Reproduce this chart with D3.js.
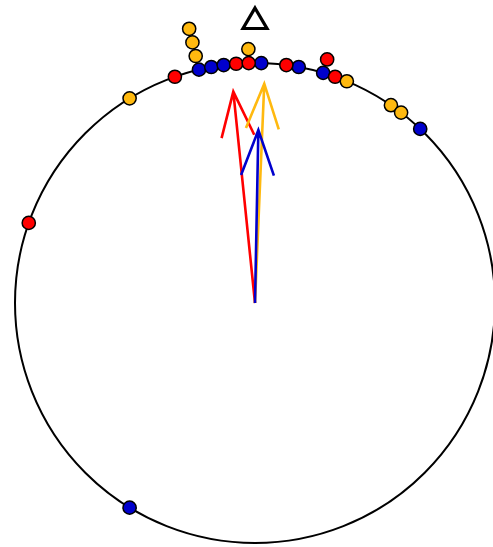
<!DOCTYPE html>
<html>
<head>
<meta charset="utf-8">
<script src="https://cdn.jsdelivr.net/npm/d3@7"></script>
<style>
  html, body { margin: 0; padding: 0; background: #fff; }
  svg { display: block; }
</style>
</head>
<body>
<svg id="chart" width="493" height="547"></svg>
<script>
// Angles in degrees, clockwise from north (zero marked by the triangle)
const seriesNames = ["blue", "red", "orange"];
const blueAngles = [-148.5, -13.5, -10.5, -7.5, 1.5, 10.5, 16.5, 43.5];
const redAngles = [-70.5, -19.5, -4.5, -1.5, 7.5, 16.5, 19.5];
const orangeAngles = [-31.5, -13.5, -13.5, -13.5, -1.5, 22.5, 34.5, 37.5];
const seriesColors = ["#0000CD", "#FF0000", "#FFB90F"];
const binWidth = 3;

const svg = d3.select("#chart");
const cx = 255, cy = 303, R = 240;
const g = svg.append("g").attr("transform", `translate(${cx},${cy})`);

const rScale = d3.scaleLinear().domain([0, 1]).range([0, R]);
const aScale = d3.scaleLinear().domain([0, 360]).range([0, 2 * Math.PI]);
const pt = (deg, r) => {
  const a = aScale(deg);
  return [r * Math.sin(a), -r * Math.cos(a)];
};

// circle
g.append("circle").attr("r", rScale(1)).attr("fill", "none")
  .attr("stroke", "#000").attr("stroke-width", 2);

// zero marker triangle
const triPath = d3.path();
triPath.moveTo(0, 8 - cy); triPath.lineTo(12, 28.5 - cy); triPath.lineTo(-12, 28.5 - cy); triPath.closePath();
g.append("path").attr("d", triPath.toString()).attr("fill", "none")
  .attr("stroke", "#000").attr("stroke-width", 3.2).attr("stroke-linejoin", "miter");

// stacked points
const allSeries = [blueAngles, redAngles, orangeAngles];
const binCount = new Map();
const pts = [];
allSeries.forEach((arr, si) => {
  arr.forEach(a => {
    const bin = Math.floor(a / binWidth);
    const k = binCount.get(bin) || 0;
    binCount.set(bin, k + 1);
    const center = (bin + 0.5) * binWidth;
    pts.push({ a: center, k, color: seriesColors[si] });
  });
});
const step = 14;
g.selectAll("circle.pt").data(pts).join("circle").attr("class", "pt")
  .attr("cx", d => pt(d.a, rScale(1) + d.k * step)[0])
  .attr("cy", d => pt(d.a, rScale(1) + d.k * step)[1])
  .attr("r", 6.6)
  .attr("fill", d => d.color)
  .attr("stroke", "#000").attr("stroke-width", 1.5);

// mean resultant arrows
const arrowOrder = [1, 2, 0]; // red, orange, blue (blue on top)
arrowOrder.forEach(si => {
  const arr = allSeries[si];
  const rad = arr.map(a => aScale(a));
  const S = d3.mean(rad, r => Math.sin(r));
  const C = d3.mean(rad, r => Math.cos(r));
  const rho = Math.sqrt(S * S + C * C);
  const mu = Math.atan2(S, C) * 180 / Math.PI;
  const tip = pt(mu, rScale(rho));
  const headLen = 48, headAng = 20;
  const h1 = tip.map((v, i) => v + pt(mu + 180 - headAng, headLen)[i]);
  const h2 = tip.map((v, i) => v + pt(mu + 180 + headAng, headLen)[i]);
  const p = d3.path();
  p.moveTo(0, 0); p.lineTo(tip[0], tip[1]);
  p.moveTo(h1[0], h1[1]); p.lineTo(tip[0], tip[1]); p.lineTo(h2[0], h2[1]);
  g.append("path").attr("d", p.toString()).attr("fill", "none")
    .attr("stroke", seriesColors[si]).attr("stroke-width", 2.6)
    .attr("stroke-linejoin", "miter");
});
</script>
</body>
</html>
